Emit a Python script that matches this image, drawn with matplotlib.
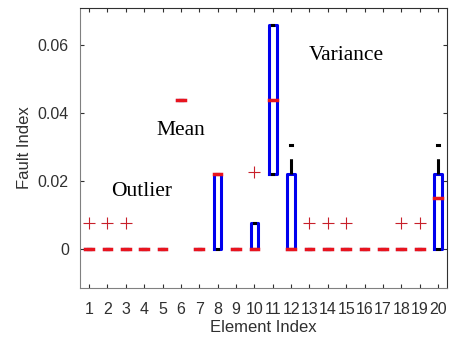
import numpy as np
import matplotlib.pyplot as plt

# per element box statistics (Fault Index)
elements = list(range(1, 21))
q1 = [0, 0, 0, 0, 0, 0.044, 0, 0, 0, 0, 0.022, 0, 0, 0, 0, 0, 0, 0, 0, 0]
q3 = [0, 0, 0, 0, 0, 0.044, 0, 0.022, 0, 0.0075, 0.066, 0.022, 0, 0, 0, 0, 0, 0, 0, 0.022]
med = [0, 0, 0, 0, 0, 0.044, 0, 0.022, 0, 0, 0.044, 0, 0, 0, 0, 0, 0, 0, 0, 0.015]
whis_hi = [0, 0, 0, 0, 0, 0.044, 0, 0.022, 0, 0.0075, 0.066, 0.0305, 0, 0, 0, 0, 0, 0, 0, 0.0305]
outliers = [[0.0075], [0.0075], [0.0075], [], [], [], [], [], [], [0.0226], [], [],
            [0.0075], [0.0075], [0.0075], [], [], [0.0075], [0.0075], []]

stats = []
for i in range(len(elements)):
    stats.append(dict(q1=q1[i], q3=q3[i], med=med[i], whislo=q1[i], whishi=whis_hi[i],
                      fliers=outliers[i], label=str(elements[i])))

plt.rcParams['font.family'] = ['Liberation Sans', 'DejaVu Sans']
fig = plt.figure(figsize=(4.54, 3.44), dpi=100)
ax = fig.add_axes([0.176, 0.163, 0.809, 0.814])

ax.bxp(stats, positions=elements, widths=0.42, capwidths=0.08,
       boxprops=dict(color='#0000ee', linewidth=2.2),
       medianprops=dict(color='#e8141e', linewidth=2.5, zorder=4, solid_capstyle='projecting'),
       whiskerprops=dict(color='black', linewidth=2.2, linestyle=(0, (5, 5))),
       capprops=dict(color='black', linewidth=2.2),
       flierprops=dict(marker='+', markeredgecolor='#c8202a', markersize=8,
                       markeredgewidth=0.8, linestyle='none'))

ax.set_xlim(0.5, 20.5)
ax.set_ylim(-0.0115, 0.071)
ax.set_xticks(elements)
ax.set_xticklabels([str(e) for e in elements])
ax.set_yticks([0, 0.02, 0.04, 0.06])
ax.set_yticklabels(['0', '0.02', '0.04', '0.06'])
ax.tick_params(direction='in', top=True, right=True, length=3, width=0.8,
               labelsize=11.5, colors='#303030', pad=8)
ax.tick_params(axis='x', pad=10)
for s in ax.spines.values():
    s.set_color('#303030')
    s.set_linewidth(0.8)
ax.spines['left'].set_color('#808080')
ax.spines['bottom'].set_color('#808080')

ax.set_xlabel('Element Index', fontsize=12, color='#303030', labelpad=2)
ax.set_ylabel('Fault Index', fontsize=12, color='#303030', labelpad=4)

ax.text(3.85, 0.0168, 'Outlier', family='Liberation Serif', fontsize=15.5, ha='center', va='center')
ax.text(6.0, 0.035, 'Mean', family='Liberation Serif', fontsize=15.5, ha='center', va='center')
ax.text(15.0, 0.057, 'Variance', family='Liberation Serif', fontsize=15.5, ha='center', va='center')

fig.savefig('out.png', dpi=100)
